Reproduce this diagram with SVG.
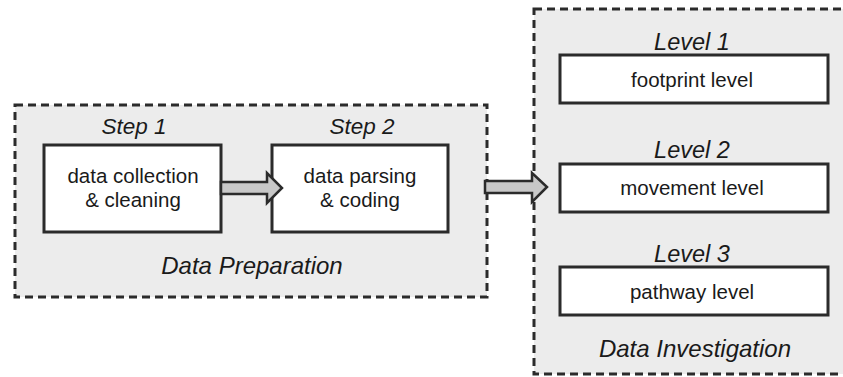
<svg xmlns="http://www.w3.org/2000/svg" width="843" height="377" viewBox="0 0 843 377">
  <style>
    .panel { fill: #ececec; stroke: #2b2b2b; stroke-width: 3; stroke-dasharray: 8 5; }
    .box { fill: #ffffff; stroke: #2b2b2b; stroke-width: 3; }
    .arrow { fill: #c8c8c8; stroke: #2b2b2b; stroke-width: 2.5; stroke-linejoin: miter; }
    text { font-family: "Liberation Sans", Arial, sans-serif; fill: #1a1a1a; text-anchor: middle; }
    .body { font-size: 20.5px; }
    .label { font-size: 22.5px; font-style: italic; }
    .level { font-size: 23.5px; font-style: italic; }
    .title { font-size: 24px; font-style: italic; }
  </style>

  <!-- Data Preparation panel -->
  <g id="data-preparation">
    <rect class="panel" x="15" y="105" width="472" height="192"/>
    <text class="title" x="252" y="274">Data Preparation</text>
  </g>

  <!-- Data Investigation panel (runs past the right edge) -->
  <g id="data-investigation">
    <rect class="panel" x="534" y="9" width="340" height="365"/>
    <text class="title" x="695" y="357">Data Investigation</text>
  </g>

  <g id="step1">
    <text class="label" x="134" y="134">Step 1</text>
    <rect class="box" x="44" y="145" width="177" height="87"/>
    <text class="body" x="133" y="183">data collection</text>
    <text class="body" x="133" y="207">&amp; cleaning</text>
  </g>

  <g id="step2">
    <text class="label" x="362" y="134">Step 2</text>
    <rect class="box" x="272" y="145" width="176" height="87"/>
    <text class="body" x="360" y="183">data parsing</text>
    <text class="body" x="360" y="207">&amp; coding</text>
  </g>

  <g id="level1">
    <text class="level" x="692" y="50">Level 1</text>
    <rect class="box" x="560" y="55" width="268" height="48"/>
    <text class="body" x="692" y="87">footprint level</text>
  </g>

  <g id="level2">
    <text class="level" x="692" y="158">Level 2</text>
    <rect class="box" x="560" y="164" width="268" height="48"/>
    <text class="body" x="692" y="195">movement level</text>
  </g>

  <g id="level3">
    <text class="level" x="692" y="262">Level 3</text>
    <rect class="box" x="560" y="267" width="268" height="48"/>
    <text class="body" x="692" y="299">pathway level</text>
  </g>

  <!-- block arrows between stages -->
  <g id="connectors">
    <path class="arrow" d="M221,182 L267,182 L267,173 L282,188 L267,203 L267,194 L221,194 Z"/>
    <path class="arrow" d="M485,181 L532,181 L532,173 L547,187 L532,202 L532,193 L485,193 Z"/>
  </g>
</svg>
